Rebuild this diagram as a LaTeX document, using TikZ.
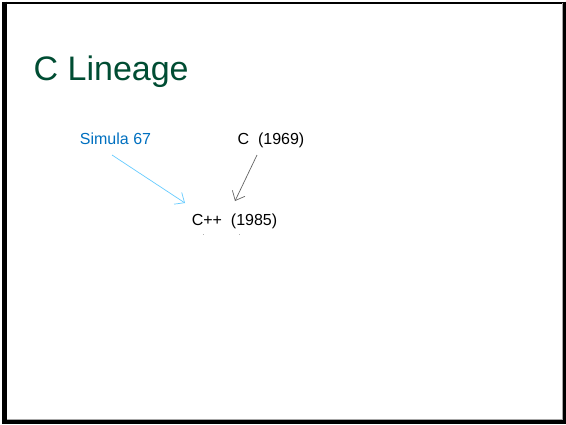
\documentclass[tikz,border=0pt]{standalone}
\usepackage{fontspec}
\setmainfont{Liberation Sans}
\usetikzlibrary{arrows.meta}
\definecolor{titlegreen}{RGB}{0,77,51}
\definecolor{simblue}{RGB}{0,112,192}
\definecolor{arrblue}{RGB}{102,204,255}
\definecolor{arrgray}{RGB}{100,100,100}
\tikzset{
  lbl/.style={inner sep=0pt, anchor=base, font=\fontsize{16}{16}\selectfont},
  link/.style={line width=0.7pt, -{Straight Barb[length=8pt,width=14pt,line width=0.7pt]}},
}
\begin{document}
\begin{tikzpicture}[x=1pt,y=-1pt]
\useasboundingbox (0,0) rectangle (566,424);
\fill[white] (0,0) rectangle (566,424);
% frame
\draw[black, line width=2pt] (4,2.5) rectangle (564.5,421.5);
\draw[black, line width=5pt] (4.5,1.5) -- (4.5,424);
\draw[black, line width=4pt] (2,422) -- (566,422);
\draw[black, line width=3pt] (564.5,1.5) -- (564.5,424);
\draw[gray!70, line width=1pt] (7,419.5) -- (562.5,419.5) -- (562.5,3);
% title
\node[inner sep=0pt, anchor=base west, text=titlegreen, font=\fontsize{34}{34}\selectfont] (title) at (33.5,80) {C Lineage};
% nodes
\node[lbl, text=simblue] (sim) at (115.5,144) {Simula 67};
\node[lbl] (c) at (271,144) {C\ \ (1969)};
\node[lbl] (cpp) at (234.5,225) {C++\ \ (1985)};
% arrows
\coordinate (s1) at (112,155);
\coordinate (s2) at (185,203);
\coordinate (c1) at (257,155);
\coordinate (c2) at (235,201);
\draw[link, arrblue] (s1) -- (s2);
\draw[link, arrgray] (c1) -- (c2);
% tiny marks
\fill[gray!60] (202.5,233.5) rectangle (203.5,234.5);
\fill[gray!60] (238.5,233.5) rectangle (239.5,234.5);
\end{tikzpicture}
\end{document}
